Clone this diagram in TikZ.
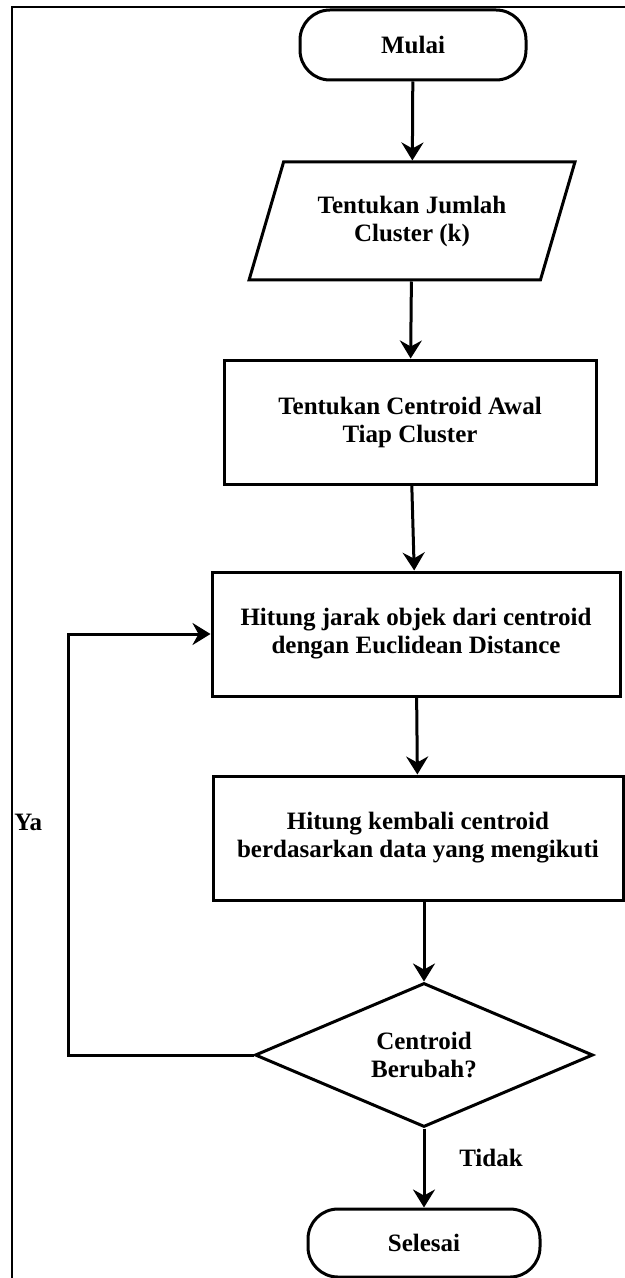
\documentclass[tikz,border=0pt]{standalone}
\usepackage{fontspec}
\setmainfont{Liberation Serif}
\usetikzlibrary{shapes.geometric, arrows.meta, positioning}

\newcommand{\flowfont}{\fontsize{12.5}{14}\selectfont\bfseries}

\tikzset{
  terminal/.style={draw, line width=1.5pt, rounded corners=15pt, minimum width=113pt, minimum height=35pt, font=\flowfont},
  inputbox/.style={draw, line width=1.5pt, trapezium, trapezium left angle=67, trapezium right angle=113, trapezium stretches=true, minimum width=163pt, minimum height=59pt, align=center, font=\flowfont},
  processbox/.style={draw, line width=1.5pt, minimum height=62pt, align=center, font=\flowfont},
  decisionbox/.style={draw, line width=1.5pt, diamond, aspect=2.3, inner sep=0pt, minimum width=169pt, minimum height=72pt, align=center, font=\flowfont},
  flowarrow/.style={line width=1.5pt, -{Stealth[length=9pt, width=11pt, inset=3pt]}}
}

\begin{document}
\begin{tikzpicture}[x=0.5pt, y=-0.5pt]
  \useasboundingbox (0,0) rectangle (625,1278);

  % outer frame
  \draw[line width=0.8pt] (12,1278) -- (12,7) -- (625,7);

  % flow nodes
  \node[terminal] (mulai) at (413,45) {Mulai};
  \node[inputbox] (jumlah) at (412,221) {Tentukan Jumlah\\Cluster (k)};
  \node[processbox, minimum width=186pt] (awal) at (410,422) {Tentukan Centroid Awal\\Tiap Cluster};
  \node[processbox, minimum width=204pt] (jarak) at (416,634) {Hitung jarak objek dari centroid\\dengan Euclidean Distance};
  \node[processbox, minimum width=205pt] (kembali) at (418,838) {Hitung kembali centroid\\berdasarkan data yang mengikuti};
  \node[decisionbox] (cek) at (424,1055) {Centroid\\Berubah?};
  \node[terminal, minimum width=116pt, minimum height=34pt] (selesai) at (424,1243) {Selesai};

  % loop column
  \coordinate (loopx) at (68,0);

  % connectors
  \draw[flowarrow] (mulai) -- (jumlah);
  \draw[flowarrow] (jumlah) -- (awal);
  \draw[flowarrow] (awal) -- (jarak);
  \draw[flowarrow] (jarak) -- (kembali);
  \draw[flowarrow] (cek |- kembali.south) -- (cek);
  \draw[flowarrow] (cek) -- (selesai);
  \draw[flowarrow] (cek.west) -- (cek.west -| loopx) -- (loopx |- jarak.west) -- (jarak.west);

  % labels
  \node[font=\flowfont, anchor=west, inner sep=0pt] (ya) at (14,822) {Ya};
  \node[font=\flowfont] (tidak) at (491,1158) {Tidak};
\end{tikzpicture}
\end{document}
